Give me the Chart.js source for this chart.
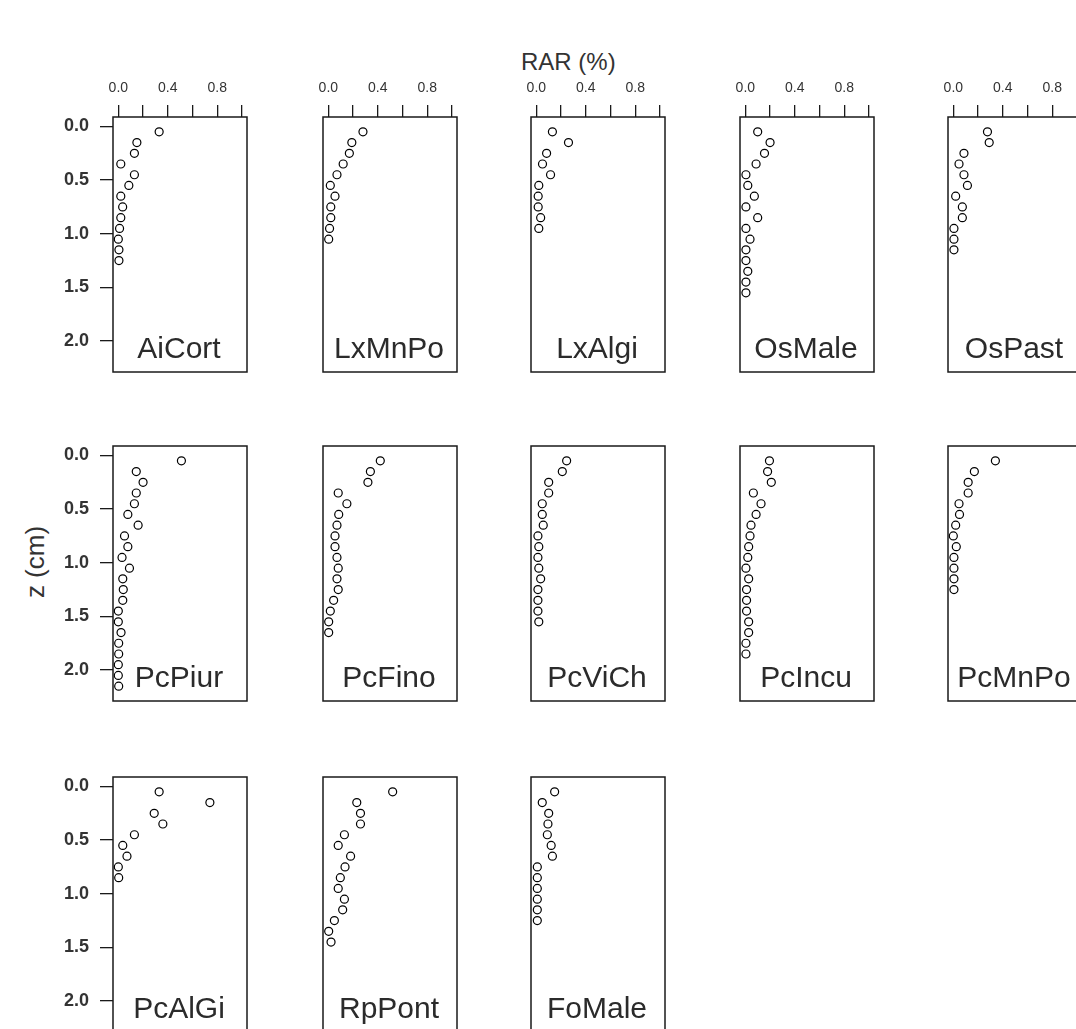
<!DOCTYPE html>
<html><head><meta charset="utf-8">
<script src="https://cdn.jsdelivr.net/npm/chart.js@4.4.0/dist/chart.umd.min.js"></script>
<style>
html,body{margin:0;padding:0;background:#fff;}
body{width:1076px;height:1029px;overflow:hidden;position:relative;font-family:"Liberation Sans",Arial,sans-serif;}
canvas{position:absolute;}
.lab{position:absolute;color:#333;white-space:nowrap;line-height:1;}
</style></head><body>
<div class="lab" style="left:521px;top:50px;font-size:24px;">RAR (%)</div>
<div class="lab" style="left:35px;top:562px;font-size:26px;transform:translate(-50%,-50%) rotate(-90deg);">z (cm)</div>
<script>
// ---- data ----
const panelNames = ["AiCort","LxMnPo","LxAlgi","OsMale","OsPast",
                    "PcPiur","PcFino","PcViCh","PcIncu","PcMnPo",
                    "PcAlGi","RpPont","FoMale"];
const depthLevels = [0.05,0.15,0.25,0.35,0.45,0.55,0.65,0.75,0.85,0.95,1.05,
                     1.15,1.25,1.35,1.45,1.55,1.65,1.75,1.85,1.95,2.05,2.15];
const rarAiCort = [0.33,0.15,0.13,0.02,0.13,0.085,0.02,0.035,0.02,0.01,0.0,0.005,0.005];
const rarLxMnPo = [0.28,0.19,0.17,0.12,0.07,0.016,0.054,0.02,0.02,0.01,0.003];
const rarLxAlgi = [0.13,0.26,0.083,0.05,0.115,0.02,0.015,0.015,0.035,0.02];
const rarOsMale = [0.10,0.20,0.155,0.087,0.005,0.02,0.073,0.005,0.10,0.005,0.038,0.005,0.005,0.02,0.005,0.005];
const rarOsPast = [0.276,0.29,0.086,0.046,0.086,0.114,0.019,0.073,0.073,0.005,0.005,0.005];
const rarPcPiur = [0.51,0.145,0.20,0.145,0.13,0.077,0.16,0.05,0.077,0.03,0.09,0.036,0.04,0.036,0.0,0.0,0.022,0.003,0.003,0.0,0.0,0.003];
const rarPcFino = [0.42,0.34,0.32,0.08,0.15,0.084,0.07,0.054,0.054,0.07,0.08,0.07,0.08,0.043,0.016,0.003,0.003];
const rarPcViCh = [0.245,0.21,0.10,0.10,0.048,0.048,0.056,0.013,0.02,0.013,0.02,0.035,0.013,0.013,0.013,0.02];
const rarPcIncu = [0.195,0.18,0.21,0.065,0.127,0.087,0.046,0.038,0.027,0.02,0.005,0.027,0.01,0.01,0.01,0.027,0.027,0.005,0.005];
const rarPcMnPo = [0.34,0.17,0.12,0.12,0.046,0.05,0.019,0.0,0.024,0.005,0.005,0.005,0.005];
const rarPcAlGi = [0.33,0.74,0.29,0.36,0.13,0.036,0.07,0.0,0.003];
const rarRpPont = [0.52,0.23,0.26,0.26,0.13,0.08,0.18,0.135,0.097,0.08,0.13,0.116,0.049,0.003,0.022];
const rarFoMale = [0.148,0.048,0.10,0.094,0.089,0.12,0.13,0.008,0.008,0.008,0.008,0.008,0.008];
const panelValues = [rarAiCort,rarLxMnPo,rarLxAlgi,rarOsMale,rarOsPast,
                     rarPcPiur,rarPcFino,rarPcViCh,rarPcIncu,rarPcMnPo,
                     rarPcAlGi,rarRpPont,rarFoMale];
const xTickValues = [0,0.2,0.4,0.6,0.8,1.0];
const xTickLabels = ["0.0","","0.4","","0.8",""];
const yTickValues = [0,0.5,1.0,1.5,2.0];
const yTickLabels = ["0.0","0.5","1.0","1.5","2.0"];

// ---- layout ----
const colLeft = [113,323,531,740,948];
const rowTop = [117,446,777];
const BOX_W = 134, BOX_H = 255;
const ML = 100, MT = 100, MR = 6, MB = 6;

const boxPlugin = {
  id:'boxPlugin',
  afterDraw(chart){
    const a = chart.chartArea, ctx = chart.ctx;
    ctx.save();
    ctx.strokeStyle = '#1a1a1a';
    ctx.lineWidth = 1.5;
    ctx.strokeRect(a.left, a.top, a.right-a.left, a.bottom-a.top);
    ctx.fillStyle = '#2b2b2b';
    ctx.font = '30px "Liberation Sans", Arial, sans-serif';
    ctx.textAlign = 'center';
    ctx.textBaseline = 'alphabetic';
    ctx.fillText(chart.options.plugins.boxPlugin.name, (a.left+a.right)/2 - 1, a.bottom - 14);
    ctx.restore();
  }
};

panelNames.forEach((name, i) => {
  const col = i % 5, row = Math.floor(i / 5);
  const cv = document.createElement('canvas');
  const w = BOX_W + ML + MR, h = BOX_H + MT + MB;
  cv.width = w; cv.height = h;
  cv.style.width = w + 'px'; cv.style.height = h + 'px';
  cv.style.left = (colLeft[col] - ML) + 'px';
  cv.style.top = (rowTop[row] - MT) + 'px';
  document.body.appendChild(cv);
  const vals = panelValues[i];
  const pts = vals.map((v, k) => ({x: v, y: depthLevels[k]}));
  const showX = row === 0, showY = col === 0;
  new Chart(cv, {
    type: 'scatter',
    data: {datasets: [{data: pts, pointRadius: 4, pointHoverRadius: 4,
      pointBackgroundColor: 'rgba(0,0,0,0)', pointBorderColor: '#000', pointBorderWidth: 1.2, clip: false}]},
    options: {
      responsive: false, animation: false, events: [],
      devicePixelRatio: 1,
      layout: {padding: {left: 0, top: 0, right: MR, bottom: MB}, autoPadding: false},
      plugins: {legend: {display: false}, tooltip: {enabled: false}, boxPlugin: {name: name}},
      scales: {
        x: {
          type: 'linear', position: 'top', min: -0.043, max: 1.04,
          afterBuildTicks: s => { s.ticks = xTickValues.map(v => ({value: v})); },
          afterFit: s => { s.height = MT; s.paddingLeft = 0; s.paddingRight = 0; s.paddingTop = 0; s.paddingBottom = 0; },
          grid: {drawOnChartArea: false, drawTicks: showX, tickLength: 12, color: '#1a1a1a', lineWidth: 1.3},
          border: {display: false},
          ticks: {display: showX, padding: 8, color: '#333', maxRotation: 0, autoSkip: false,
            font: {family: '"Liberation Sans", Arial, sans-serif', size: 14},
            callback: (v, idx) => xTickLabels[idx]}
        },
        y: {
          type: 'linear', position: 'left', reverse: true, min: -0.088, max: 2.288,
          afterBuildTicks: s => { s.ticks = yTickValues.map(v => ({value: v})); },
          afterFit: s => { s.width = ML; s.paddingTop = 0; s.paddingBottom = 0; s.paddingLeft = 0; s.paddingRight = 0; },
          grid: {drawOnChartArea: false, drawTicks: showY, tickLength: 13, color: '#1a1a1a', lineWidth: 1.3},
          border: {display: false},
          ticks: {display: showY, padding: 11, color: '#333', autoSkip: false,
            font: {family: '"Liberation Sans", Arial, sans-serif', size: 18, weight: 'bold'},
            callback: (v, idx) => yTickLabels[idx]}
        }
      }
    },
    plugins: [boxPlugin]
  });
});
</script>
</body></html>
